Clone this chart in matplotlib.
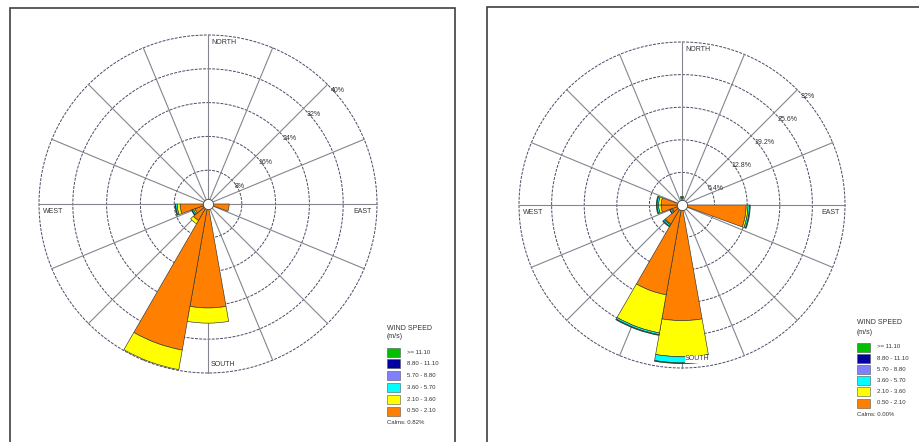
import numpy as np
import matplotlib
matplotlib.use("Agg")
from matplotlib import pyplot as plt
from matplotlib.patches import Rectangle

plt.rcParams['font.family'] = ['Liberation Sans', 'DejaVu Sans']

# speed classes (m/s), legend order top -> bottom
speed_labels = [">= 11.10", "8.80 - 11.10", "5.70 - 8.80",
                "3.60 - 5.70", "2.10 - 3.60", "0.50 - 2.10"]
speed_colors = ["#00C000", "#0000A0", "#8080FF",
                "#00FFFF", "#FFFF00", "#FF8000"]

# left rose: bar directions (deg) and percent per class
left_dirs = [100, 180, 200, 220, 240, 260]
left_050_210 = [5.0, 24.6, 35.1, 4.5, 3.3, 6.6]
left_210_360 = [0.0, 3.6, 4.7, 0.9, 0.35, 0.7]
left_360_570 = [0.0, 0.0, 0.0, 0.0, 0.35, 0.35]
left_570_880 = [0.0, 0.0, 0.0, 0.0, 0.0, 0.0]
left_880_1110 = [0.0, 0.0, 0.0, 0.0, 0.0, 0.0]
left_ge_1110 = [0.0, 0.0, 0.0, 0.0, 0.15, 0.15]
left_rings = [8, 16, 24, 32, 40]
left_ring_labels = ["8%", "16%", "24%", "32%", "40%"]
left_calms = "Calms: 0.82%"

# right rose
right_dirs = [0, 100, 180, 200, 220, 240, 260, 280]
right_050_210 = [1.0, 12.6, 22.7, 17.9, 4.3, 2.0, 4.1, 4.1]
right_210_360 = [0.3, 0.35, 7.1, 7.6, 0.2, 0.2, 0.5, 0.5]
right_360_570 = [0.2, 0.3, 1.2, 0.35, 0.3, 0.3, 0.3, 0.3]
right_570_880 = [0.0, 0.0, 0.0, 0.0, 0.0, 0.0, 0.0, 0.0]
right_880_1110 = [0.0, 0.0, 0.0, 0.0, 0.0, 0.0, 0.0, 0.0]
right_ge_1110 = [0.2, 0.15, 0.15, 0.15, 0.15, 0.1, 0.15, 0.15]
right_rings = [6.4, 12.8, 19.2, 25.6, 32]
right_ring_labels = ["6.4%", "12.8%", "19.2%", "25.6%", "32%"]
right_calms = "Calms: 0.00%"

W, H = 920, 442
fig = plt.figure(figsize=(W / 100, H / 100), dpi=100)


def fx(x):
    return x / W


def fy(y):
    return 1 - y / H


def rose(cx, cy, rpx, dirs, classes, rings, ring_labels):
    ax = fig.add_axes([fx(cx - rpx), fy(cy + rpx), 2 * rpx / W, 2 * rpx / H],
                      projection='polar')
    ax.set_theta_zero_location('N')
    ax.set_theta_direction(-1)
    rmax = rings[-1]
    ax.set_ylim(0, rmax)
    ax.grid(False)
    ax.set_xticks([])
    ax.set_yticks([])
    ax.spines['polar'].set_visible(False)
    ax.patch.set_alpha(0)

    t = np.linspace(0, 2 * np.pi, 400)
    for r in rings:
        ax.plot(t, np.full_like(t, r), color='#4a4a66', lw=0.7,
                ls=(0, (3, 1.3)), clip_on=False, zorder=1)
    for a in np.arange(16) * 22.5:
        ax.plot([np.deg2rad(a)] * 2, [0, rmax], color='#85858f', lw=0.8,
                clip_on=False, zorder=1)

    theta = np.deg2rad(dirs)
    bottom = np.zeros(len(dirs))
    # stack from the lowest class outwards
    for vals, col in zip(classes, speed_colors[::-1]):
        vals = np.asarray(vals, float)
        m = vals > 0
        if m.any():
            ax.bar(theta[m], vals[m], width=np.deg2rad(20), bottom=bottom[m],
                   color=col, edgecolor='#333333', lw=0.45, zorder=3,
                   align='center')
        bottom += vals

    ax.scatter([0], [0], s=55, c='white', edgecolors='#444444',
               linewidths=0.6, zorder=6, clip_on=False)

    for r, lab in zip(rings, ring_labels):
        ax.annotate(lab, xy=(np.deg2rad(45), r), xytext=(3, -3),
                    textcoords='offset pixels', ha='left', va='top',
                    fontsize=5, color='#333333', zorder=7)

    box = dict(facecolor='white', edgecolor='none', pad=0.3)
    ax.annotate("NORTH", xy=(0, rmax), xytext=(3, -7),
                textcoords='offset pixels', ha='left', va='center',
                fontsize=5, color='#333333', zorder=7, bbox=box)
    ax.annotate("SOUTH", xy=(np.pi, rmax), xytext=(3, 9),
                textcoords='offset pixels', ha='left', va='center',
                fontsize=5, color='#333333', zorder=7, bbox=box)
    ax.annotate("WEST", xy=(1.5 * np.pi, rmax), xytext=(4, -7),
                textcoords='offset pixels', ha='left', va='center',
                fontsize=5, color='#333333', zorder=7, bbox=box)
    ax.annotate("EAST", xy=(0.5 * np.pi, rmax), xytext=(-5, -7),
                textcoords='offset pixels', ha='right', va='center',
                fontsize=5, color='#333333', zorder=7, bbox=box)
    return ax


def legend(x, y, dy, calms):
    fig.text(fx(x), fy(y), "WIND SPEED", fontsize=5, color='#333333',
             va='center', ha='left')
    fig.text(fx(x), fy(y + 9), "(m/s)", fontsize=5, color='#333333',
             va='center', ha='left')
    for i, (lab, col) in enumerate(zip(speed_labels, speed_colors)):
        yy = y + 24 + i * dy
        fig.add_artist(Rectangle((fx(x), fy(yy + 4.5)), 13 / W, 9 / H,
                                 transform=fig.transFigure, facecolor=col,
                                 edgecolor='#555555', lw=0.4))
        fig.text(fx(x + 20), fy(yy), lab, fontsize=4.3, color='#333333',
                 va='center', ha='left')
    fig.text(fx(x), fy(y + 24 + 6 * dy), calms, fontsize=4.3,
             color='#333333', va='center', ha='left')


# panel frames
fig.add_artist(Rectangle((fx(10), -0.2), fx(455) - fx(10), fy(8) + 0.2,
                         transform=fig.transFigure, facecolor='none',
                         edgecolor='#404040', lw=1.2))
fig.add_artist(Rectangle((fx(487), -0.2), 0.5, fy(7) + 0.2,
                         transform=fig.transFigure, facecolor='none',
                         edgecolor='#404040', lw=1.2))

rose(208, 204, 169, left_dirs,
     [left_050_210, left_210_360, left_360_570,
      left_570_880, left_880_1110, left_ge_1110],
     left_rings, left_ring_labels)
rose(682, 205, 163, right_dirs,
     [right_050_210, right_210_360, right_360_570,
      right_570_880, right_880_1110, right_ge_1110],
     right_rings, right_ring_labels)

legend(387, 328, 11.8, left_calms)
legend(857, 323, 11.2, right_calms)

fig.savefig("out.png", dpi=100)
